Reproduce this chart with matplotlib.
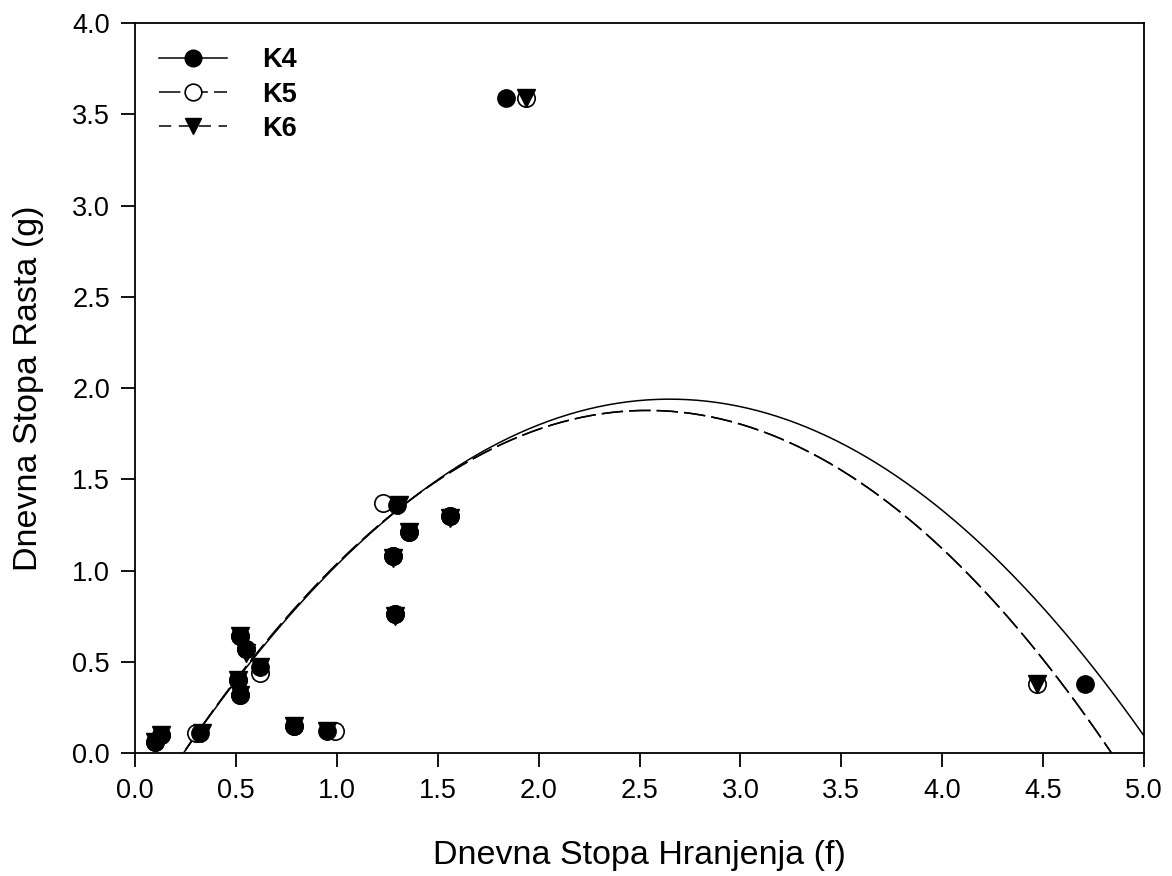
import numpy as np
import matplotlib
matplotlib.use("Agg")
import matplotlib.pyplot as plt

plt.rcParams['font.family'] = ['Liberation Sans', 'DejaVu Sans']

# measured points (feeding rate f, growth rate g)
k4_x = [0.10, 0.13, 0.32, 0.51, 0.52, 0.52, 0.55, 0.62, 0.79, 0.95, 1.28, 1.29, 1.30, 1.36, 1.56, 1.84, 4.71]
k4_y = [0.06, 0.10, 0.11, 0.40, 0.32, 0.64, 0.57, 0.47, 0.15, 0.12, 1.08, 0.76, 1.36, 1.21, 1.30, 3.59, 0.38]

k5_x = [0.10, 0.13, 0.30, 0.51, 0.52, 0.52, 0.55, 0.62, 0.79, 0.99, 1.28, 1.29, 1.23, 1.36, 1.56, 1.94, 4.47]
k5_y = [0.06, 0.10, 0.11, 0.40, 0.32, 0.64, 0.57, 0.44, 0.15, 0.12, 1.08, 0.76, 1.37, 1.21, 1.30, 3.59, 0.38]

k6_x = [0.10, 0.13, 0.33, 0.51, 0.52, 0.52, 0.55, 0.62, 0.79, 0.95, 1.28, 1.29, 1.31, 1.36, 1.56, 1.94, 4.47]
k6_y = [0.06, 0.10, 0.11, 0.40, 0.32, 0.64, 0.55, 0.47, 0.15, 0.12, 1.07, 0.75, 1.36, 1.21, 1.29, 3.59, 0.38]

# quadratic fits, coefficients [a, b, c] for a*x^2 + b*x + c
k4_fit = [-0.334, 1.770, -0.406]
k5_fit = [-0.355, 1.803, -0.412]
k6_fit = [-0.355, 1.803, -0.412]

xticks = [0.0, 0.5, 1.0, 1.5, 2.0, 2.5, 3.0, 3.5, 4.0, 4.5, 5.0]
yticks = [0.0, 0.5, 1.0, 1.5, 2.0, 2.5, 3.0, 3.5, 4.0]

fig = plt.figure(figsize=(11.72, 8.76), dpi=100)
ax = fig.add_axes([0.1152, 0.1404, 0.8609, 0.8333])

xs = np.linspace(0.1, 5.0, 300)
ax.plot(xs, np.polyval(k4_fit, xs), color='black', lw=1.1, zorder=1)
ax.plot(xs, np.polyval(k5_fit, xs), color='black', lw=1.1, dashes=(14, 4), zorder=1)
ax.plot(xs, np.polyval(k6_fit, xs), color='black', lw=1.1, dashes=(14, 4), zorder=1)

ms = 12.5
ax.plot(k4_x, k4_y, 'o', color='black', ms=ms, zorder=3)
ax.plot(k5_x, k5_y, 'o', mfc='white', mec='black', mew=1.2, ms=ms, zorder=2)
ax.plot(k6_x, k6_y, 'v', color='black', ms=ms, zorder=4)

# legend proxies
h4, = ax.plot([], [], '-o', color='black', lw=1.1, ms=12)
h5, = ax.plot([], [], 'o', mfc='white', mec='black', mew=1.2, ms=12,
              ls=(0, (14, 4)), color='black', lw=1.1)
h6, = ax.plot([], [], 'v', color='black', ms=12, ls=(0, (8, 5)), lw=1.1)
leg = ax.legend([h4, h5, h6], ['K4', 'K5', 'K6'], loc='upper left',
                bbox_to_anchor=(0.0, 1.0), frameon=False,
                prop={'size': 19.5, 'weight': 'bold'},
                handlelength=2.5, handletextpad=1.3, labelspacing=0.3,
                borderaxespad=0.5)

ax.set_xlim(0, 5)
ax.set_ylim(0, 4)
ax.set_xticks(xticks)
ax.set_yticks(yticks)
ax.set_xticklabels([f"{t:.1f}" for t in xticks])
ax.set_yticklabels([f"{t:.1f}" for t in yticks])
ax.tick_params(direction='out', length=10, width=1.3, labelsize=19.5, pad=8,
               top=False, right=False)
for s in ax.spines.values():
    s.set_linewidth(1.3)

ax.set_xlabel('Dnevna Stopa Hranjenja (f)', fontsize=24.5, labelpad=26)
ax.set_ylabel('Dnevna Stopa Rasta (g)', fontsize=24.5, labelpad=20)

fig.savefig('out.png', dpi=100)
